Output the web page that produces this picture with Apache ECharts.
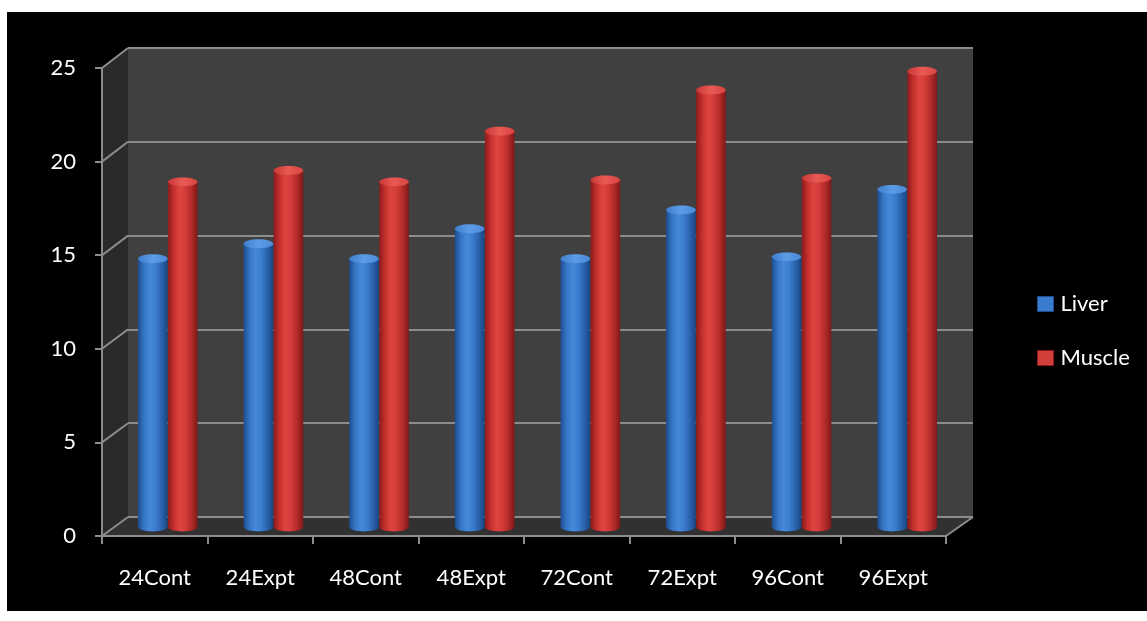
<!DOCTYPE html>
<html>
<head>
<meta charset="utf-8">
<script src="https://cdn.jsdelivr.net/npm/echarts@6/dist/echarts.min.js"></script>
<style>
html, body { margin: 0; background: #fff; }
#main { width: 1147px; height: 621px; }
</style>
</head>
<body>
<div id="main"></div>
<script>
// data
var categories = ['24Cont', '24Expt', '48Cont', '48Expt', '72Cont', '72Expt', '96Cont', '96Expt'];
var liver = [14.3, 15.1, 14.3, 15.9, 14.3, 16.9, 14.4, 18.0];
var muscle = [18.4, 19.0, 18.4, 21.1, 18.5, 23.3, 18.6, 24.3];
var yTicks = [0, 5, 10, 15, 20, 25];

// 3d box: front frame, back wall, and the depth in the middle where cylinders stand
var front = { left: 102, top: 68, width: 844, height: 468 };
var back = { left: 128, top: 48, width: 845, height: 469 };
var mid = { left: 115, top: 58, width: 845, height: 469 };

var gridColor = '#8c8c8c';
var font = 'Lato, "Open Sans", sans-serif';

var chart = echarts.init(document.getElementById('main'));

function grad(stops) {
    return new echarts.graphic.LinearGradient(0, 0, 1, 0, stops.map(function (c, i) {
        return { offset: i / (stops.length - 1), color: c };
    }));
}

var blueBody = ['#1d4d90', '#3575c4', '#4689db', '#3b7dcf', '#2a63ad', '#1b4584'];
var blueTop = ['#3f7fcf', '#5c9be6', '#4b8ad8'];
var redBody = ['#8c1b1b', '#c4302e', '#de4541', '#d23b38', '#b12b29', '#7e1818'];
var redTop = ['#c83734', '#ea5a55', '#d84440'];

function cylinder(offset, body, top) {
    return function (params, api) {
        var c = api.coord([api.value(0), api.value(1)]);
        var base = api.coord([api.value(0), 0]);
        var band = api.size([1, 0])[0];
        var w = band * 0.28;
        var x = c[0] + offset * band - w / 2;
        var ry = w * 0.15;
        return {
            type: 'group',
            children: [
                { type: 'ellipse', shape: { cx: x + w / 2, cy: base[1], rx: w / 2, ry: ry }, style: { fill: grad(body) } },
                { type: 'rect', shape: { x: x, y: c[1], width: w, height: base[1] - c[1] }, style: { fill: grad(body) } },
                { type: 'ellipse', shape: { cx: x + w / 2, cy: c[1], rx: w / 2, ry: ry }, style: { fill: grad(top) } }
            ]
        };
    };
}

var option = {
    backgroundColor: '#fff',
    animation: false,
    grid: [
        { left: front.left, top: front.top, width: front.width, height: front.height },
        { left: back.left, top: back.top, width: back.width, height: back.height, show: true, backgroundColor: '#404040', borderWidth: 0 },
        { left: mid.left, top: mid.top, width: mid.width, height: mid.height }
    ],
    legend: {
        orient: 'vertical',
        left: 1032,
        top: 288,
        itemWidth: 16,
        itemHeight: 15,
        itemGap: 32,
        textStyle: { color: '#fff', fontSize: 22, fontFamily: font, padding: [0, 0, 0, 2] },
        data: [
            { name: 'Liver', icon: 'rect', itemStyle: { color: '#3a7ccd', borderColor: '#1f4f90', borderWidth: 1 } },
            { name: 'Muscle', icon: 'rect', itemStyle: { color: '#d23e3a', borderColor: '#8c1b1b', borderWidth: 1 } }
        ]
    },
    xAxis: [
        {
            gridIndex: 0, type: 'category', data: categories,
            axisLine: { lineStyle: { color: gridColor, width: 2 } },
            axisTick: { show: true, length: 8, lineStyle: { color: gridColor, width: 2 } },
            axisLabel: { color: '#fff', fontSize: 22, fontFamily: font, margin: 31 }
        },
        { gridIndex: 1, type: 'category', data: categories, show: false },
        { gridIndex: 2, type: 'category', data: categories, show: false }
    ],
    yAxis: [
        {
            gridIndex: 0, type: 'value', min: 0, max: 25, interval: 5,
            axisLine: { show: true, lineStyle: { color: gridColor, width: 2 } },
            axisTick: { show: true, length: 7, lineStyle: { color: gridColor, width: 2 } },
            splitLine: { show: false },
            axisLabel: { color: '#fff', fontSize: 22, fontFamily: font, margin: 26 }
        },
        {
            gridIndex: 1, type: 'value', min: 0, max: 25, interval: 5,
            axisLine: { show: false }, axisTick: { show: false }, axisLabel: { show: false },
            splitLine: { show: true, lineStyle: { color: gridColor, width: 2 } }
        },
        { gridIndex: 2, type: 'value', min: 0, max: 25, interval: 5, show: false, splitLine: { show: false } }
    ],
    series: [
        {
            name: 'Liver', type: 'custom', xAxisIndex: 2, yAxisIndex: 2,
            itemStyle: { color: '#3a7ccd' },
            encode: { x: 0, y: 1 },
            renderItem: cylinder(-0.142, blueBody, blueTop),
            data: liver.map(function (v, i) { return [i, v]; })
        },
        {
            name: 'Muscle', type: 'custom', xAxisIndex: 2, yAxisIndex: 2,
            itemStyle: { color: '#d23e3a' },
            encode: { x: 0, y: 1 },
            renderItem: cylinder(0.142, redBody, redTop),
            data: muscle.map(function (v, i) { return [i, v]; })
        }
    ]
};

chart.setOption(option);

// side wall, floor and the slanted lines joining front ticks to back grid lines
function yf(v) { return chart.convertToPixel({ yAxisIndex: 0 }, v); }
function yb(v) { return chart.convertToPixel({ yAxisIndex: 1 }, v); }

var fr = front.left + front.width, br = back.left + back.width;
var els = [
    { type: 'rect', z: -10, shape: { x: 7, y: 12, width: 1140, height: 599 }, style: { fill: '#000' } },
    { type: 'polygon', z: -1, shape: { points: [[front.left, yf(0)], [front.left, yf(25)], [back.left, yb(25)], [back.left, yb(0)]] }, style: { fill: '#2a2a2a' } },
    { type: 'polygon', z: -1, shape: { points: [[front.left, yf(0)], [fr, yf(0)], [br, yb(0)], [back.left, yb(0)]] }, style: { fill: '#313131' } },
    { type: 'line', z: 1, shape: { x1: fr, y1: yf(0), x2: br, y2: yb(0) }, style: { stroke: gridColor, lineWidth: 2 } }
];
yTicks.forEach(function (v) {
    els.push({ type: 'line', z: 1, shape: { x1: front.left, y1: yf(v), x2: back.left, y2: yb(v) }, style: { stroke: gridColor, lineWidth: 2 } });
});
chart.setOption({ graphic: { elements: els } });
</script>
</body>
</html>
